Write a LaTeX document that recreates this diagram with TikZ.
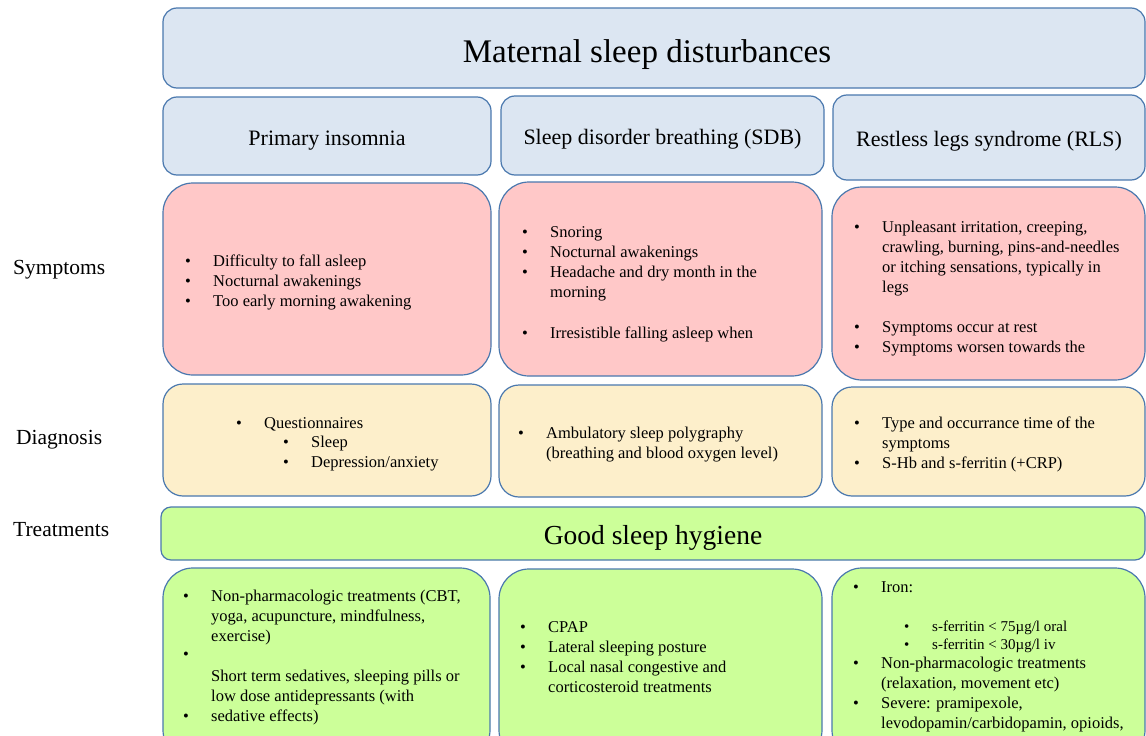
\documentclass[tikz,border=0pt]{standalone}
\usepackage{fontspec}
\setmainfont{Liberation Serif}
\definecolor{boxline}{HTML}{4A78AE}
\definecolor{bluefill}{HTML}{DCE6F2}
\definecolor{pinkfill}{HTML}{FFC8C8}
\definecolor{creamfill}{HTML}{FDEFCB}
\definecolor{greenfill}{HTML}{CCFF99}
\newcommand{\itm}{\makebox[28pt][l]{\textbullet}}
\newcommand{\cnt}{\hspace{28pt}}
\tikzset{box/.style = {draw=boxline, line width=1.2pt, rectangle, inner sep=0pt},
         hdr/.style = {box, fill=bluefill, rounded corners=14pt, font=\fontsize{22}{26}\selectfont,
                       text height=23pt, text depth=5pt},
         symbox/.style = {box, fill=pinkfill, rounded corners=30pt},
         diagbox/.style = {box, fill=creamfill, rounded corners=20pt},
         treatbox/.style = {box, fill=greenfill, rounded corners=30pt},
         txt/.style = {anchor=base west, inner sep=0pt, font=\fontsize{16.5}{20}\selectfont},
         rowlabel/.style = {anchor=base west, inner sep=0pt, font=\fontsize{21.5}{26}\selectfont}}

\begin{document}
\begin{tikzpicture}[x=1pt,y=-1pt]
\useasboundingbox (0,0) rectangle (1146,736);
\clip (0,0) rectangle (1146,736);
% title and the three disorders
\node[hdr, minimum width=982pt, minimum height=80pt, font=\fontsize{33}{38}\selectfont,
      text height=36pt, text depth=7pt] (title) at (654,48) {\hspace{-14pt}Maternal sleep disturbances};
\node[hdr, minimum width=328pt, minimum height=78pt] (hpi) at (327,136) {Primary insomnia};
\node[hdr, minimum width=323pt, minimum height=79pt] (hsdb) at (662.5,135.5) {Sleep disorder breathing (SDB)};
\node[hdr, minimum width=312pt, minimum height=85pt] (hrls) at (989,137.5) {Restless legs syndrome (RLS)};
% row labels
\node[rowlabel] (lsym) at (13,274) {Symptoms};
\node[rowlabel] (ldiag) at (16,444) {Diagnosis};
\node[rowlabel] (ltreat) at (13,536) {Treatments};
% symptoms
\node[symbox, minimum width=328pt, minimum height=192pt] (spi) at (327,279) {};
\node[symbox, minimum width=323pt, minimum height=194pt] (ssdb) at (660.5,279) {};
\node[symbox, minimum width=313pt, minimum height=193pt] (srls) at (988.5,283.5) {};
\node[txt] (tspi) at (185,266) {\begin{tabular}[t]{@{}l@{}}
  \itm Difficulty to fall asleep\\ \itm Nocturnal awakenings\\ \itm Too early morning awakening
\end{tabular}};
\node[txt] (tssdb) at (522,237) {\begin{tabular}[t]{@{}l@{}}
  \itm Snoring\\ \itm Nocturnal awakenings\\ \itm Headache and dry month in the\\ \cnt morning\\[21pt]
  \itm Irresistible falling asleep when
\end{tabular}};
\node[txt] (tsrls) at (854,232) {\begin{tabular}[t]{@{}l@{}}
  \itm Unpleasant irritation, creeping,\\ \cnt crawling, burning, pins-and-needles\\
  \cnt or itching sensations, typically in\\ \cnt legs\\[20pt]
  \itm Symptoms occur at rest\\ \itm Symptoms worsen towards the
\end{tabular}};
% diagnosis
\node[diagbox, minimum width=328pt, minimum height=112pt] (dpi) at (327,440) {};
\node[diagbox, minimum width=323pt, minimum height=112pt] (dsdb) at (660.5,441) {};
\node[diagbox, minimum width=313pt, minimum height=109pt] (drls) at (988.5,441.5) {};
\node[txt] (tdpi) at (236,428) {\begin{tabular}[t]{@{}l@{}}
  \itm Questionnaires\\[-0.5pt] \hspace{47pt}\itm Sleep\\[-0.5pt] \hspace{47pt}\itm Depression/anxiety
\end{tabular}};
\node[txt] (tdsdb) at (518,438) {\begin{tabular}[t]{@{}l@{}}
  \itm Ambulatory sleep polygraphy\\ \cnt (breathing and blood oxygen level)
\end{tabular}};
\node[txt] (tdrls) at (854,428) {\begin{tabular}[t]{@{}l@{}}
  \itm Type and occurrance time of the\\ \cnt symptoms\\ \itm S-Hb and s-ferritin (+CRP)
\end{tabular}};
% treatments
\node[box, fill=greenfill, rounded corners=10pt, minimum width=984pt, minimum height=53pt,
      font=\fontsize{27.5}{32}\selectfont, text height=27pt, text depth=6pt] (gsh) at (653,533.5) {Good sleep hygiene};
\node[treatbox, minimum width=327pt, minimum height=192pt] (tpi) at (326.5,664) {};
\node[treatbox, minimum width=323pt, minimum height=191pt] (tsdb) at (660.5,664.5) {};
\node[treatbox, minimum width=313pt, minimum height=192pt] (trls) at (988.5,664) {};
\node[txt] (ttpi) at (183,601) {\begin{tabular}[t]{@{}l@{}}
  \itm Non-pharmacologic treatments (CBT,\\ \cnt yoga, acupuncture, mindfulness,\\ \cnt exercise)\\[-2pt]
  \itm\\[2pt] \cnt Short term sedatives, sleeping pills or\\ \cnt low dose antidepressants (with\\
  \itm sedative effects)
\end{tabular}};
\node[txt] (ttsdb) at (520,632) {\begin{tabular}[t]{@{}l@{}}
  \itm CPAP\\ \itm Lateral sleeping posture\\ \itm Local nasal congestive and\\ \cnt corticosteroid treatments
\end{tabular}};
\node[txt] (ttrls) at (853,592) {\begin{tabular}[t]{@{}l@{}}
  \itm Iron:\\[19pt]
  {\fontsize{15}{18}\selectfont\hspace{51pt}\itm s-ferritin < 75µg/l oral}\\[-2pt]
  {\fontsize{15}{18}\selectfont\hspace{51pt}\itm s-ferritin < 30µg/l iv}\\[-1pt]
  \itm Non-pharmacologic treatments\\ \cnt (relaxation, movement etc)\\
  \itm Severe: pramipexole,\\ \cnt levodopamin/carbidopamin, opioids,
\end{tabular}};
\end{tikzpicture}
\end{document}
